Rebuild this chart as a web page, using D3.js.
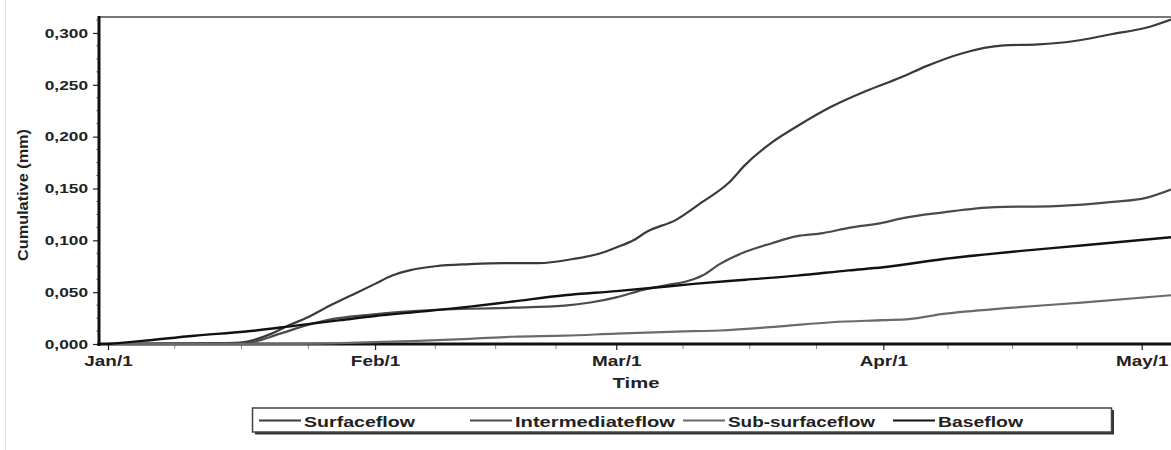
<!DOCTYPE html>
<html><head><meta charset="utf-8">
<script src="https://cdn.jsdelivr.net/npm/d3@7"></script>
<style>
body{margin:0;background:#fff;}
svg{display:block;font-family:"Liberation Sans",Arial,sans-serif;}
</style></head>
<body>
<svg id="c" width="1171" height="450"></svg>
<script>
// ---- data (day offsets from Jan/1, cumulative mm) ----
const seriesNames = ["Surfaceflow","Intermediateflow","Sub-surfaceflow","Baseflow"];
const surfaceDays = [0,10,15,16,19,21,23,26,29,31,33,35,38,42,46,50,54,57,59,61,62.5,66,69,72,74,77,80,84,88,92,95,99,104,108,112,116.6,120.5,123.4];
const surfaceVals = [0,0.0005,0.001,0.002,0.010,0.018,0.025,0.038,0.050,0.058,0.066,0.071,0.075,0.077,0.078,0.078,0.082,0.087,0.093,0.100,0.108,0.120,0.137,0.155,0.173,0.194,0.210,0.229,0.244,0.257,0.268,0.280,0.288,0.289,0.292,0.299,0.305,0.313];
const interDays = [0,10,16,20,23,26,30,34,38,42,47,53,56,59,62,65,67,69,71,74,77,80,83,86,90,92,97,103,110,116.6,120.5,123.4];
const interVals = [0,0.0005,0.001,0.010,0.018,0.024,0.028,0.031,0.033,0.034,0.035,0.037,0.040,0.045,0.052,0.057,0.060,0.066,0.077,0.089,0.097,0.104,0.107,0.112,0.117,0.121,0.127,0.132,0.133,0.137,0.141,0.149];
const subDays = [0,20,28,36,42,47,53,59,66,71,78,84,90,93,97,105,113,123.4];
const subVals = [0,0,0.001,0.003,0.005,0.007,0.008,0.010,0.012,0.013,0.017,0.021,0.023,0.024,0.029,0.035,0.040,0.047];
const baseDays = [0,4,10,16,22,27,31,36,42,47,53,59,63,68,74,80,86,90,97,105,113,123.4];
const baseVals = [0,0.003,0.008,0.012,0.018,0.023,0.027,0.031,0.036,0.041,0.047,0.051,0.054,0.058,0.062,0.066,0.071,0.074,0.082,0.089,0.095,0.103];
const xTickLabels = ["Jan/1","Feb/1","Mar/1","Apr/1","May/1"];
const yTickValues = [0,0.05,0.10,0.15,0.20,0.25,0.30];
const lineColors = ["#3a3a3a","#4a4a4a","#6a6a6a","#111111"];

// ---- build ----
const svg = d3.select("#c");
const start = new Date(Date.UTC(2001,0,1));
const dayToDate = d => new Date(start.getTime() + d*86400000);
const x = d3.scaleUtc().domain([start, dayToDate(123.4)]).range([108,1171]);
const y = d3.scaleLinear().domain([0,0.3154]).range([344,17]);

// horizontally stretched lettering, as in the source image
function stretch(sel, k){
  sel.each(function(){
    const w = this.getComputedTextLength();
    d3.select(this).attr("textLength", w*k).attr("lengthAdjust","spacingAndGlyphs");
  });
}

// faint page border
svg.append("line").attr("x1",5.5).attr("x2",5.5).attr("y1",0).attr("y2",450).attr("stroke","#e4e4e4").attr("stroke-width",1);

// top frame line
svg.append("line").attr("x1",99).attr("x2",1171).attr("y1",17).attr("y2",17).attr("stroke","#777").attr("stroke-width",2);

const fmt = v => d3.format(".3f")(v).replace(".",",");

// Y axis
const yAxis = d3.axisLeft(y).tickValues(yTickValues).tickFormat(fmt).tickSize(6).tickPadding(5);
const yg = svg.append("g").attr("transform","translate(99,0)").call(yAxis);
yg.select(".domain").remove();
yg.selectAll(".tick line").attr("stroke","#222").attr("stroke-width",1.2);
yg.selectAll(".tick text").attr("font-size",13.5).attr("font-weight","bold").attr("fill","#222").call(stretch,1.28);
// y minor ticks
const yMinor = d3.range(0,0.316,0.0125).filter(v => !yTickValues.some(t=>Math.abs(t-v)<1e-6));
svg.append("g").selectAll("line").data(yMinor).join("line")
  .attr("x1",96).attr("x2",99).attr("y1",d=>y(d)).attr("y2",d=>y(d)).attr("stroke","#888").attr("stroke-width",1);
svg.append("line").attr("x1",99).attr("x2",99).attr("y1",16).attr("y2",346).attr("stroke","#111").attr("stroke-width",3);

// X axis
const monthStarts = xTickLabels.map((_,i)=>new Date(Date.UTC(2001,i,1)));
const xAxis = d3.axisBottom(x).tickValues(monthStarts).tickFormat((d,i)=>xTickLabels[i]).tickSize(6).tickPadding(6);
const xg = svg.append("g").attr("transform","translate(0,344)").call(xAxis);
xg.select(".domain").remove();
xg.selectAll(".tick line").attr("stroke","#222").attr("stroke-width",1.2);
xg.selectAll(".tick text").attr("font-size",14).attr("font-weight","bold").attr("fill","#222").call(stretch,1.35);
// x minor ticks: quarter months
const xMinor = [];
for (let m=0;m<5;m++){
  const a = Date.UTC(2001,m,1), b = Date.UTC(2001,m+1,1);
  for (let k=1;k<4;k++){ const t=new Date(a+(b-a)*k/4); if (t<=x.domain()[1]) xMinor.push(t); }
}
svg.append("g").selectAll("line").data(xMinor).join("line")
  .attr("x1",d=>x(d)).attr("x2",d=>x(d)).attr("y1",344).attr("y2",349).attr("stroke","#888").attr("stroke-width",1);
svg.append("line").attr("x1",97.5).attr("x2",1171).attr("y1",344).attr("y2",344).attr("stroke","#111").attr("stroke-width",3);

// axis titles
svg.append("text").attr("x",636).attr("y",388).attr("text-anchor","middle")
  .attr("font-size",15).attr("font-weight","bold").attr("fill","#222").text("Time").call(stretch,1.35);
svg.append("text").attr("transform","translate(28,195) rotate(-90)").attr("text-anchor","middle")
  .attr("font-size",14).attr("font-weight","bold").attr("fill","#222").text("Cumulative (mm)")
  .attr("textLength",132).attr("lengthAdjust","spacingAndGlyphs");

// lines
const series = [
  {days:surfaceDays, vals:surfaceVals},
  {days:interDays, vals:interVals},
  {days:subDays, vals:subVals},
  {days:baseDays, vals:baseVals}
];
const line = d3.line().x(d=>x(dayToDate(d[0]))).y(d=>y(d[1])).curve(d3.curveMonotoneX);
const plot = svg.append("g");
plot.append("clipPath").attr("id","clp").append("rect").attr("x",99).attr("y",17).attr("width",1072).attr("height",330);
series.forEach((s,i)=>{
  plot.append("path").attr("clip-path","url(#clp)")
    .datum(s.days.map((d,j)=>[d,s.vals[j]]))
    .attr("fill","none").attr("stroke",lineColors[i]).attr("stroke-width",i===3?2.4:2.2)
    .attr("stroke-linejoin","round").attr("d",line);
});

// legend
const lg = svg.append("g");
lg.append("rect").attr("x",255).attr("y",410).attr("width",859).attr("height",24.5).attr("fill","#333");
lg.append("rect").attr("x",252.5).attr("y",408).attr("width",859).attr("height",24).attr("fill","#fff").attr("stroke","#444").attr("stroke-width",1.5);
const legX = [259,470,683,893];
const legW = [111,160,147,85];
seriesNames.forEach((n,i)=>{
  lg.append("line").attr("x1",legX[i]).attr("x2",legX[i]+42).attr("y1",420.5).attr("y2",420.5)
    .attr("stroke",lineColors[i]).attr("stroke-width",2);
  lg.append("text").attr("x",legX[i]+45).attr("y",427).attr("font-size",15).attr("font-weight","bold")
    .attr("fill","#222").text(n).attr("textLength",legW[i]).attr("lengthAdjust","spacingAndGlyphs");
});
</script>
</body></html>
